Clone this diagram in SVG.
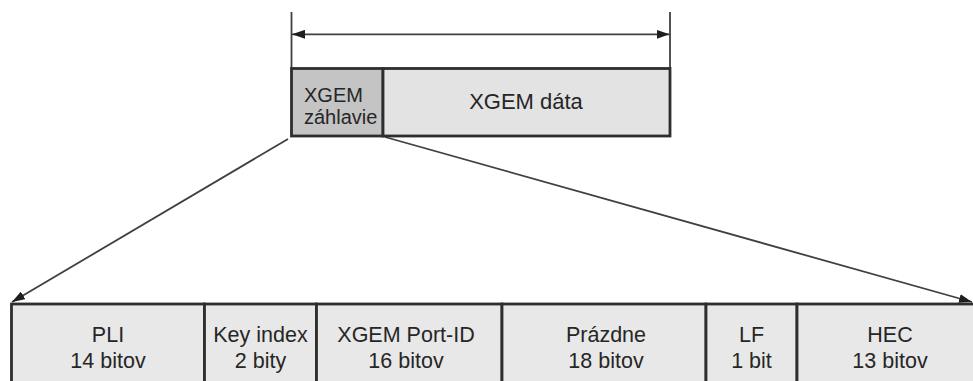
<svg xmlns="http://www.w3.org/2000/svg" width="973" height="381" viewBox="0 0 973 381">
<style>
.t{font-family:"Liberation Sans",Arial,sans-serif;fill:#262626;text-anchor:middle}
.box{stroke:#2e2e2e;stroke-width:2.8}
.cell{fill:#e8e8e8}
.ln{stroke:#404040;stroke-width:1.8;fill:none}
</style>
<defs>
<marker id="ah" viewBox="0 0 13 9" refX="13" refY="4.5" markerWidth="13" markerHeight="9" markerUnits="userSpaceOnUse" orient="auto-start-reverse">
<path d="M0,0 L13,4.5 L0,9 Z" fill="#1e1e1e"/>
</marker>
</defs>
<g id="connectors">
<line class="ln" x1="291.5" y1="12" x2="291.5" y2="68"/>
<line class="ln" x1="670" y1="12" x2="670" y2="68"/>
<line class="ln" x1="292" y1="34.3" x2="669.5" y2="34.3" marker-start="url(#ah)" marker-end="url(#ah)"/>
<line class="ln" x1="288" y1="139" x2="12" y2="302" marker-end="url(#ah)"/>
<line class="ln" x1="385" y1="137" x2="972" y2="302" marker-end="url(#ah)"/>
</g>
<g id="xgem-header">
<rect class="box" x="291.5" y="68.5" width="91.5" height="67.5" fill="#c4c4c4"/>
<text class="t" font-size="20" x="304" y="102" text-anchor="start" style="text-anchor:start">XGEM</text>
<text class="t" font-size="20" x="304" y="123.5" text-anchor="start" style="text-anchor:start">záhlavie</text>
</g>
<g id="xgem-data">
<rect class="box" x="383" y="68.5" width="287" height="67.5" fill="#e3e3e3"/>
<text class="t" font-size="22" x="526" y="108.5">XGEM dáta</text>
</g>
<g id="pli">
<rect class="box cell" x="11.5" y="304" width="193" height="90"/>
<text class="t" font-size="21.5" x="108" y="341.5">PLI</text>
<text class="t" font-size="21.5" x="108" y="367.5">14 bitov</text>
</g>
<g id="key-index">
<rect class="box cell" x="204.5" y="304" width="112" height="90"/>
<text class="t" font-size="21.5" x="260.5" y="341.5">Key index</text>
<text class="t" font-size="21.5" x="260.5" y="367.5">2 bity</text>
</g>
<g id="port-id">
<rect class="box cell" x="316.5" y="304" width="185.5" height="90"/>
<text class="t" font-size="21.5" x="406" y="341.5">XGEM Port-ID</text>
<text class="t" font-size="21.5" x="406" y="367.5">16 bitov</text>
</g>
<g id="prazdne">
<rect class="box cell" x="502" y="304" width="204" height="90"/>
<text class="t" font-size="21.5" x="606" y="341.5">Prázdne</text>
<text class="t" font-size="21.5" x="606" y="367.5">18 bitov</text>
</g>
<g id="lf">
<rect class="box cell" x="706" y="304" width="91" height="90"/>
<text class="t" font-size="21.5" x="751.5" y="341.5">LF</text>
<text class="t" font-size="21.5" x="751.5" y="367.5">1 bit</text>
</g>
<g id="hec">
<rect class="box cell" x="797" y="304" width="190" height="90"/>
<text class="t" font-size="21.5" x="890" y="341.5">HEC</text>
<text class="t" font-size="21.5" x="890" y="367.5">13 bitov</text>
</g>
</svg>
